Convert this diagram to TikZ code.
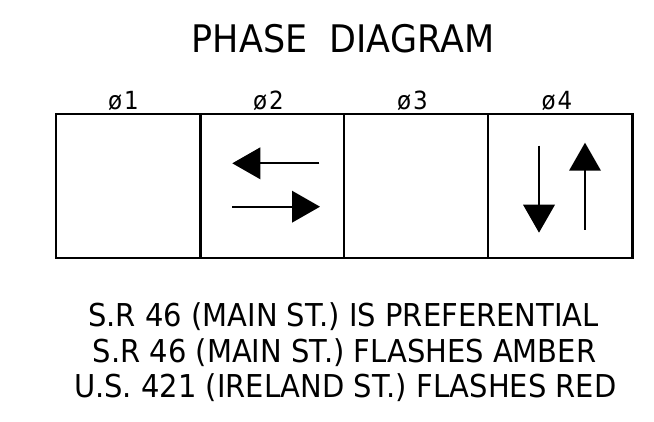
\documentclass[tikz,border=0pt]{standalone}
\usepackage{fontspec}
\setmainfont[FakeStretch=0.92]{DejaVu Sans}
\usetikzlibrary{arrows.meta}
\newcommand{\titlefont}{\fontsize{38}{44}\selectfont}
\newcommand{\phasefont}{\fontsize{25}{30}\selectfont}
\newcommand{\notefont}{\fontsize{31.5}{36}\selectfont}

\begin{document}
\begin{tikzpicture}[x=1pt, y=-1pt, line width=2.2pt,
    >={Triangle[length=28pt,width=31.5pt]}]
      \useasboundingbox (0,0) rectangle (654,422);
      \def\l{56}     % left edge of the phases
      \def\r{632.5}  % right edge
      \def\t{114}    % top
      \def\b{258}    % bottom
      \draw (\l,\t) rectangle (\r,\b);
      \draw (200.5,\t) -- (200.5,\b);
      \draw (344.3,\t) -- (344.3,\b);
      \draw (488.3,\t) -- (488.3,\b);
\node[anchor=base, font=\titlefont] (title) at (343,52.7) {PHASE\ \ DIAGRAM};
\node[anchor=base, font=\phasefont] (ph1) at (123.5,109.3) {ø\kern2pt 1};
\node[anchor=base, font=\phasefont] (ph2) at (268.5,109.3) {ø\kern2pt 2};
\node[anchor=base, font=\phasefont] (ph3) at (412.5,109.3) {ø\kern2pt 3};
\node[anchor=base, font=\phasefont] (ph4) at (557,109.3) {ø\kern2pt 4};
      % phase 2: main street both ways
      \coordinate (wb) at (319.3,163.3);
      \coordinate (wt) at (232.3,163.3);
      \coordinate (eb) at (232.3,206.7);
      \coordinate (et) at (320,206.7);
      \draw[->, line width=2pt] (wb) -- (wt);
      \draw[->, line width=2pt] (eb) -- (et);
      % phase 4: side street both ways
      \coordinate (sb) at (539,145.7);
      \coordinate (st) at (539,232.7);
      \coordinate (nb) at (585,230);
      \coordinate (nt) at (585,142.7);
      \draw[->, line width=2pt] (sb) -- (st);
      \draw[->, line width=2pt] (nb) -- (nt);
\node[anchor=base, font=\notefont] (n1) at (343.5,327) {S.R 46 (MAIN ST.) IS PREFERENTIAL};
\node[anchor=base, font=\notefont] (n2) at (344.5,362.7) {S.R 46 (MAIN ST.) FLASHES AMBER};
\node[anchor=base, font=\notefont] (n3) at (345.3,397.7) {U.S. 421 (IRELAND ST.) FLASHES RED};
         \end{tikzpicture}
\end{document}
